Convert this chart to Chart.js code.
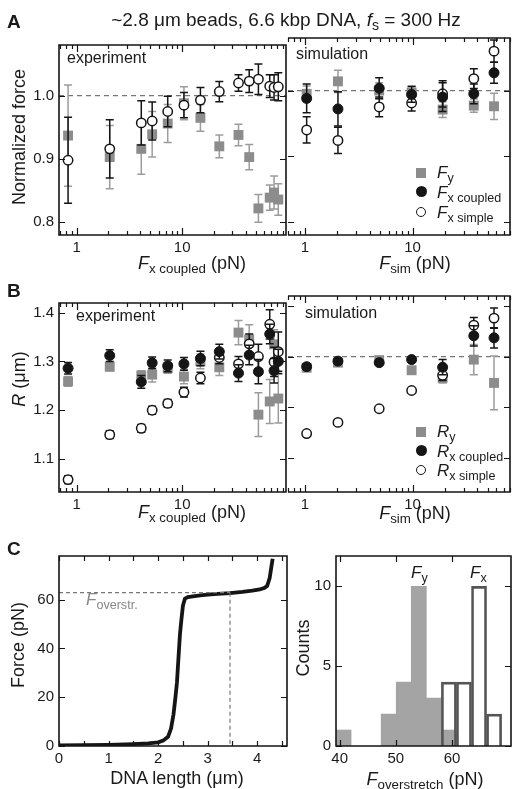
<!DOCTYPE html>
<html>
<head>
<meta charset="utf-8">
<script src="https://cdn.jsdelivr.net/npm/chart.js@4.4.1/dist/chart.umd.min.js"></script>
<style>
  body { margin: 0; background: #fff; font-family: "Liberation Sans", Arial, sans-serif; }
  #fig { position: relative; width: 513px; height: 789px; overflow: hidden; }
  canvas { position: absolute; }
  .t { position: absolute; white-space: nowrap; color: #1a1a1a; font-size: 16px; line-height: 16px; }
  .ax { font-size: 18px; line-height: 18px; }
  .c { width: 400px; text-align: center; }
  .r { width: 200px; height: 20px; line-height: 20px; text-align: center; transform: rotate(-90deg); font-size: 18px; }
  .big { font-weight: bold; font-size: 19px; line-height: 19px; }
  .leg { font-size: 17px; line-height: 17px; }
  sub { font-size: 0.74em; vertical-align: -0.28em; line-height: 0; }
  .mk { position: absolute; box-sizing: border-box; }
</style>
</head>
<body>
<div id="fig">
  <canvas id="aExp"></canvas>
  <canvas id="aSim"></canvas>
  <canvas id="bExp"></canvas>
  <canvas id="bSim"></canvas>
  <canvas id="cCurve"></canvas>
  <canvas id="cHist"></canvas>

  <div class="t c" style="left:86px;top:10px;font-size:19px;line-height:19px">~2.8 μm beads, 6.6 kbp DNA, <i>f</i><sub>s</sub> = 300 Hz</div>
  <div class="t big" style="left:7px;top:12px">A</div>
  <div class="t big" style="left:7px;top:281px">B</div>
  <div class="t big" style="left:7px;top:539px">C</div>

  <div class="t" style="left:67px;top:50px">experiment</div>
  <div class="t" style="left:296px;top:46px">simulation</div>
  <div class="t" style="left:76px;top:308px">experiment</div>
  <div class="t" style="left:305px;top:305px">simulation</div>

  <div class="t r" style="left:-81px;top:127px">Normalized force</div>
  <div class="t r" style="left:-81px;top:369px"><i>R</i> (μm)</div>
  <div class="t r" style="left:-82px;top:635px">Force (pN)</div>
  <div class="t r" style="left:203px;top:638px">Counts</div>

  <div class="t ax c" style="left:-8px;top:254px"><i>F</i><sub>x coupled</sub> (pN)</div>
  <div class="t ax c" style="left:215px;top:254px"><i>F</i><sub>sim</sub> (pN)</div>
  <div class="t ax c" style="left:-8px;top:503px"><i>F</i><sub>x coupled</sub> (pN)</div>
  <div class="t ax c" style="left:215px;top:504px"><i>F</i><sub>sim</sub> (pN)</div>
  <div class="t ax c" style="left:-23px;top:769px">DNA length (μm)</div>
  <div class="t ax c" style="left:225px;top:770px"><i>F</i><sub>overstretch</sub> (pN)</div>

  <div class="mk" style="left:416px;top:168px;width:10px;height:10px;background:#8c8c8c"></div>
  <div class="mk" style="left:416px;top:186px;width:11px;height:11px;border-radius:50%;background:#151515"></div>
  <div class="mk" style="left:416px;top:207px;width:10px;height:10px;border-radius:50%;border:1.5px solid #151515"></div>
  <div class="t leg" style="left:437px;top:164px"><i>F</i><sub>y</sub></div>
  <div class="t leg" style="left:437px;top:184px"><i>F</i><sub>x coupled</sub></div>
  <div class="t leg" style="left:437px;top:204px"><i>F</i><sub>x simple</sub></div>

  <div class="mk" style="left:416px;top:427px;width:10px;height:10px;background:#8c8c8c"></div>
  <div class="mk" style="left:416px;top:445px;width:11px;height:11px;border-radius:50%;background:#151515"></div>
  <div class="mk" style="left:416px;top:465px;width:10px;height:10px;border-radius:50%;border:1.5px solid #151515"></div>
  <div class="t leg" style="left:437px;top:423px"><i>R</i><sub>y</sub></div>
  <div class="t leg" style="left:437px;top:443px"><i>R</i><sub>x coupled</sub></div>
  <div class="t leg" style="left:437px;top:462px"><i>R</i><sub>x simple</sub></div>

  <div class="t leg" style="left:86px;top:591px;color:#888"><i>F</i><sub>overstr.</sub></div>
  <div class="t leg" style="left:411px;top:564px"><i>F</i><sub>y</sub></div>
  <div class="t leg" style="left:470px;top:564px"><i>F</i><sub>x</sub></div>
</div>

<script>
// ---- panel A / B : experiment, x = F_x coupled (pN)
const expForce = [0.83, 2.06, 4.1, 5.2, 7.3, 10.4, 14.9, 22.5, 34.2, 43.2, 52.8, 67.6, 74.3, 81.5]
const aExpFy = [0.937, 0.903, 0.916, 0.939, 0.956, 0.988, 0.965, 0.920, 0.938, 0.903, 0.822, 0.839, 0.847, 0.836]
const aExpFyErr = [0.08, 0.05, 0.04, 0.036, 0.03, 0.026, 0.021, 0.018, 0.017, 0.02, 0.022, 0.02, 0.026, 0.025]
const aExpFxSimple = [0.898, 0.916, 0.957, 0.960, 0.975, 0.985, 0.993, 1.0065, 1.020, 1.023, 1.026, 1.015, 1.013, 1.014]
const aExpFxSimpleErr = [0.068, 0.046, 0.035, 0.03, 0.024, 0.02, 0.02, 0.016, 0.013, 0.018, 0.024, 0.018, 0.02, 0.022]

const bExpRy = [1.259, 1.289, 1.271, 1.273, 1.286, 1.269, 1.30, 1.288, 1.359, 1.345, 1.191, 1.218, 1.335, 1.224]
const bExpRyErr = [0.01, 0.008, 0.01, 0.015, 0.01, 0.015, 0.015, 0.017, 0.025, 0.03, 0.045, 0.045, 0.03, 0.05]
const bExpRxCoupled = [1.286, 1.312, 1.258, 1.297, 1.291, 1.295, 1.306, 1.320, 1.276, 1.313, 1.279, 1.356, 1.281, 1.30]
const bExpRxCoupledErr = [0.012, 0.012, 0.013, 0.012, 0.012, 0.013, 0.015, 0.015, 0.017, 0.02, 0.025, 0.02, 0.025, 0.025]
const bExpRxSimple = [1.058, 1.150, 1.163, 1.20, 1.214, 1.237, 1.266, 1.308, 1.295, 1.336, 1.310, 1.376, 1.299, 1.32]
const bExpRxSimpleErr = [0.008, 0.008, 0.008, 0.008, 0.008, 0.01, 0.012, 0.013, 0.015, 0.02, 0.025, 0.03, 0.03, 0.04]

// ---- panel A / B : simulation, x = F_sim (pN)
const simForce = [1.04, 2.03, 4.9, 9.8, 19, 37, 57]
const aSimFy = [0.995, 1.014, 1.0, 0.997, 0.971, 0.977, 0.976]
const aSimFyErr = [0.012, 0.017, 0.012, 0.01, 0.012, 0.01, 0.02]
const aSimFxCoupled = [0.988, 0.972, 1.0035, 0.994, 0.990, 0.995, 1.027]
const aSimFxCoupledErr = [0.022, 0.026, 0.016, 0.012, 0.022, 0.015, 0.016]
const aSimFxSimple = [0.940, 0.924, 0.975, 0.981, 0.995, 1.018, 1.060]
const aSimFxSimpleErr = [0.02, 0.02, 0.015, 0.012, 0.02, 0.015, 0.017]

const bSimRy = [1.278, 1.288, 1.293, 1.273, 1.258, 1.294, 1.248]
const bSimRyErr = [0, 0, 0, 0, 0.01, 0.03, 0.053]
const bSimRxCoupled = [1.280, 1.291, 1.288, 1.294, 1.279, 1.341, 1.337]
const bSimRxCoupledErr = [0.005, 0.005, 0.005, 0.005, 0.015, 0.02, 0.02]
const bSimRxSimple = [1.148, 1.170, 1.197, 1.233, 1.263, 1.362, 1.376]
const bSimRxSimpleErr = [0, 0, 0, 0, 0.01, 0.015, 0.02]

// ---- panel C : force-extension curve
const dnaLength = [0, 0.5, 1.0, 1.5, 1.8, 2.0, 2.1, 2.2, 2.26, 2.31, 2.35, 2.38, 2.41, 2.44, 2.47, 2.5, 2.54, 2.6, 2.7, 2.85, 3.0, 3.2, 3.45, 3.7, 3.9, 4.05, 4.15, 4.2, 4.25, 4.28, 4.31]
const curveForce = [0, 0.1, 0.3, 0.6, 0.9, 1.3, 2, 3.6, 7, 12.8, 20, 26, 36, 45.7, 52, 57.6, 60.5, 61.2, 61.5, 61.9, 62.2, 62.5, 62.8, 63.3, 63.8, 64.3, 65, 65.8, 69, 73, 77]
const overForce = 63
const overLength = 3.45

// ---- panel C : overstretch histogram (bin centres, counts)
const fyBins = [40.69, 48.73, 51.41, 54.09, 56.77, 59.45]
const fyCounts = [1, 2, 4, 10, 3, 1]
const fxBins = [59.45, 62.13, 64.81, 67.49]
const fxCounts = [4, 4, 10, 2]

// tick labels
const logLabels = [1, 10]
const aYLabels = [0.8, 0.9, 1.0]
const bYLabels = [1.1, 1.2, 1.3, 1.4]
const cLenLabels = [0, 1, 2, 3, 4]
const cForceLabels = [0, 20, 40, 60]
const histXLabels = [40, 50, 60]
const histYLabels = [0, 5, 10]

Chart.defaults.font.family = '"Liberation Sans", Arial, sans-serif'
Chart.defaults.font.size = 15
Chart.defaults.color = '#1a1a1a'
Chart.defaults.animation = false
Chart.defaults.events = []

const ink = '#151515'
const gray = '#8c8c8c'
const grayErr = '#9c9c9c'

const pts = (xs, ys) => xs.map((x, i) => ({ x, y: ys[i] }))

const squares = (xs, ys, err) => ({ data: pts(xs, ys), errors: err, errorColor: grayErr, pointStyle: 'rect', pointRadius: 7, backgroundColor: gray, borderWidth: 0, order: 3 })
const rings = (xs, ys, err) => ({ data: pts(xs, ys), errors: err, errorColor: ink, pointStyle: 'circle', pointRadius: 4.7, backgroundColor: '#fff', borderColor: ink, borderWidth: 1.5, order: 2 })
const dots = (xs, ys, err) => ({ data: pts(xs, ys), errors: err, errorColor: ink, pointStyle: 'circle', pointRadius: 5, backgroundColor: ink, borderColor: ink, borderWidth: 1, order: 1 })

// inward tick marks for log axis: every d*10^e inside the range
function logTicks(min, max) {
  const out = []
  for (let e = Math.floor(Math.log10(min)); e <= Math.ceil(Math.log10(max)); e++) {
    for (let d = 1; d <= 9; d++) {
      const v = d * Math.pow(10, e)
      if (v >= min && v <= max) out.push({ v, len: d === 1 ? 7 : 4 })
    }
  }
  return out
}
const major = (vals, len = 6) => vals.map(v => ({ v, len }))

// frame, inward ticks on all 4 sides, dashed reference line
const boxTicks = {
  id: 'boxTicks',
  beforeDatasetsDraw(chart, args, o) {
    if (o.refY == null) return
    const { ctx, chartArea: a } = chart
    const py = chart.scales.y.getPixelForValue(o.refY)
    ctx.save()
    ctx.strokeStyle = '#777'
    ctx.lineWidth = 1.3
    ctx.setLineDash([5, 4])
    ctx.beginPath()
    ctx.moveTo(a.left, py)
    ctx.lineTo(a.right, py)
    ctx.stroke()
    ctx.restore()
  },
  afterDatasetsDraw(chart, args, o) {
    const { ctx, chartArea: a } = chart
    const sx = chart.scales.x, sy = chart.scales.y
    ctx.save()
    ctx.strokeStyle = ink
    ctx.lineWidth = 1.2
    ctx.beginPath()
    for (const t of o.x || []) {
      const px = Math.round(sx.getPixelForValue(t.v)) + 0.5
      ctx.moveTo(px, a.bottom); ctx.lineTo(px, a.bottom - t.len)
      ctx.moveTo(px, a.top); ctx.lineTo(px, a.top + t.len)
    }
    for (const t of o.y || []) {
      const py = Math.round(sy.getPixelForValue(t.v)) + 0.5
      ctx.moveTo(a.left, py); ctx.lineTo(a.left + t.len, py)
      ctx.moveTo(a.right, py); ctx.lineTo(a.right - t.len, py)
    }
    ctx.stroke()
    // frame; panels that sit right of another one share its edge, so skip the left side
    ctx.lineWidth = 1.6
    ctx.beginPath()
    ctx.moveTo(a.left, a.top); ctx.lineTo(a.right, a.top); ctx.lineTo(a.right, a.bottom); ctx.lineTo(a.left, a.bottom)
    if (!o.sharedLeft) ctx.closePath()
    ctx.stroke()
    ctx.restore()
  }
}

// vertical error bars with caps, drawn just below their own markers
const errorBars = {
  id: 'errorBars',
  beforeDatasetDraw(chart, args) {
    const ds = chart.data.datasets[args.index]
    if (!ds.errors) return
    const { ctx } = chart
    const sy = chart.scales.y
    ctx.save()
    ctx.strokeStyle = ds.errorColor
    ctx.lineWidth = 1.5
    args.meta.data.forEach((pt, i) => {
      const e = ds.errors[i]
      if (!e) return
      const v = ds.data[i].y
      const top = sy.getPixelForValue(v + e)
      const bot = sy.getPixelForValue(v - e)
      ctx.beginPath()
      ctx.moveTo(pt.x, top); ctx.lineTo(pt.x, bot)
      ctx.moveTo(pt.x - 4, top); ctx.lineTo(pt.x + 4, top)
      ctx.moveTo(pt.x - 4, bot); ctx.lineTo(pt.x + 4, bot)
      ctx.stroke()
    })
    ctx.restore()
  }
}

// box = chart area [left, top, right, bottom] in page pixels
function build(id, box, o) {
  const L = o.yLabels ? 50 : 6, T = 6, R = 6, B = o.xLabels ? 24 : 6
  const c = document.getElementById(id)
  c.width = box[2] - box[0] + L + R
  c.height = box[3] - box[1] + T + B
  c.style.left = (box[0] - L) + 'px'
  c.style.top = (box[1] - T) + 'px'
  return new Chart(c, {
    type: o.type || 'scatter',
    data: { datasets: o.datasets },
    options: {
      responsive: false,
      layout: { padding: { left: 0, top: T, right: R, bottom: 0 } },
      plugins: { legend: { display: false }, tooltip: { enabled: false }, boxTicks: o.ticks },
      scales: {
        x: {
          type: o.xType || 'linear', min: o.xRange[0], max: o.xRange[1], offset: false,
          display: !!o.xLabels, grid: { display: false, drawTicks: false }, border: { display: false },
          afterFit: s => { s.height = B },
          afterBuildTicks: s => { if (o.xLabels) s.ticks = o.xLabels.map(v => ({ value: v })) },
          ticks: { padding: 4, maxRotation: 0, autoSkip: false, callback: v => String(v) }
        },
        y: {
          type: 'linear', min: o.yRange[0], max: o.yRange[1],
          display: !!o.yLabels, grid: { display: false, drawTicks: false }, border: { display: false },
          afterFit: s => { s.width = L },
          afterBuildTicks: s => { if (o.yLabels) s.ticks = o.yLabels.map(v => ({ value: v })) },
          ticks: { padding: 5, autoSkip: false, callback: o.yFmt || (v => String(v)) }
        }
      }
    },
    plugins: [boxTicks, errorBars]
  })
}

const expRange = [0.681, 96.4]
const simRange = [0.698, 80.2]
const aRange = [0.780, 1.080]
const bRange = [1.0326, 1.4196]
const oneDec = v => v.toFixed(1)

build('aExp', [59, 37, 287, 235], {
  xType: 'logarithmic', xRange: expRange, yRange: aRange, xLabels: logLabels, yLabels: aYLabels, yFmt: oneDec,
  ticks: { x: logTicks(...expRange), y: major(aYLabels), refY: 1.0 },
  datasets: [squares(expForce, aExpFy, aExpFyErr), rings(expForce, aExpFxSimple, aExpFxSimpleErr)]
})

build('aSim', [287, 37, 511, 235], {
  xType: 'logarithmic', xRange: simRange, yRange: aRange, xLabels: logLabels,
  ticks: { x: logTicks(...simRange), y: major(aYLabels), refY: 1.0, sharedLeft: true },
  datasets: [squares(simForce, aSimFy, aSimFyErr), rings(simForce, aSimFxSimple, aSimFxSimpleErr), dots(simForce, aSimFxCoupled, aSimFxCoupledErr)]
})

build('bExp', [59, 295, 287, 492], {
  xType: 'logarithmic', xRange: expRange, yRange: bRange, xLabels: logLabels, yLabels: bYLabels, yFmt: oneDec,
  ticks: { x: logTicks(...expRange), y: major(bYLabels) },
  datasets: [squares(expForce, bExpRy, bExpRyErr), rings(expForce, bExpRxSimple, bExpRxSimpleErr), dots(expForce, bExpRxCoupled, bExpRxCoupledErr)]
})

build('bSim', [287, 295, 511, 492], {
  xType: 'logarithmic', xRange: simRange, yRange: bRange, xLabels: logLabels,
  ticks: { x: logTicks(...simRange), y: major(bYLabels), refY: 1.30, sharedLeft: true },
  datasets: [squares(simForce, bSimRy, bSimRyErr), rings(simForce, bSimRxSimple, bSimRxSimpleErr), dots(simForce, bSimRxCoupled, bSimRxCoupledErr)]
})

build('cCurve', [59, 548, 287, 746], {
  xRange: [0, 4.6], yRange: [-0.2, 78.1], xLabels: cLenLabels, yLabels: cForceLabels,
  ticks: { x: major([0, 0.5, 1, 1.5, 2, 2.5, 3, 3.5, 4, 4.5], 5), y: major(cForceLabels) },
  datasets: [
    { data: [{ x: 0, y: overForce }, { x: overLength, y: overForce }], showLine: true, pointRadius: 0, borderColor: '#777', borderWidth: 1.2, borderDash: [4, 3] },
    { data: [{ x: overLength, y: overForce }, { x: overLength, y: 0 }], showLine: true, pointRadius: 0, borderColor: '#777', borderWidth: 1.2, borderDash: [4, 3] },
    { data: pts(dnaLength, curveForce), showLine: true, pointRadius: 0, borderColor: ink, borderWidth: 3.8, tension: 0 }
  ]
})

build('cHist', [336, 548, 511, 746], {
  type: 'bar', xRange: [39.35, 70.5], yRange: [0, 11.9], xLabels: histXLabels, yLabels: histYLabels,
  ticks: { x: major(histXLabels), y: major(histYLabels) },
  datasets: [
    { data: pts(fyBins, fyCounts), backgroundColor: '#a4a4a4', borderWidth: 0, grouped: false, barPercentage: 1, categoryPercentage: 1, order: 2 },
    { data: pts(fxBins, fxCounts), backgroundColor: 'rgba(0,0,0,0)', borderColor: '#555', borderWidth: 2, grouped: false, barPercentage: 1, categoryPercentage: 1, order: 1 }
  ]
})
</script>
</body>
</html>
